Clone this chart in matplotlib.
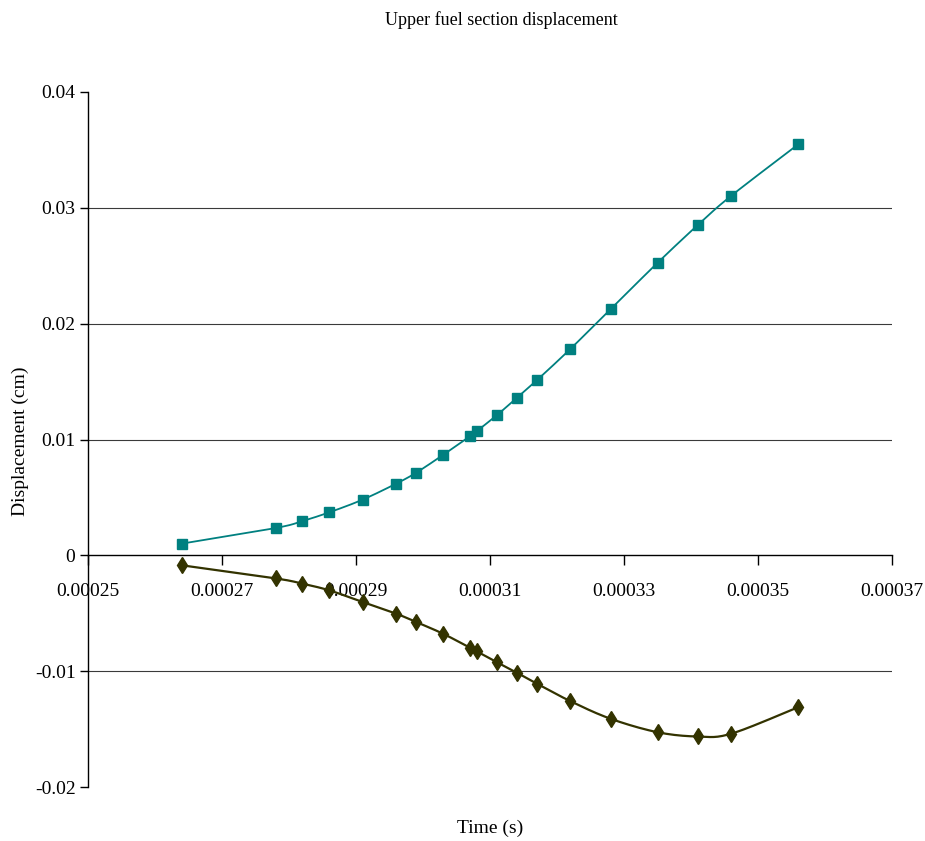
import numpy as np
import matplotlib
matplotlib.use("Agg")
import matplotlib.pyplot as plt
from matplotlib.ticker import FuncFormatter

plt.rcParams["font.family"] = ["Liberation Serif", "DejaVu Serif"]
plt.rcParams["axes.unicode_minus"] = False

# Time samples (s), shared by both traces
time_s = [0.000264, 0.000278, 0.000282, 0.000286, 0.000291, 0.000296, 0.000299,
          0.000303, 0.000307, 0.000308, 0.000311, 0.000314, 0.000317, 0.000322,
          0.000328, 0.000335, 0.000341, 0.000346, 0.000356]

# Displacement (cm)
disp_upper = [0.00101, 0.00236, 0.00296, 0.00371, 0.00481, 0.00619, 0.00714,
              0.00867, 0.01028, 0.01071, 0.01209, 0.01359, 0.01512, 0.01782,
              0.02125, 0.02525, 0.02851, 0.03104, 0.03548]
disp_lower = [-0.00086, -0.00199, -0.00245, -0.00302, -0.00403, -0.00504, -0.00576,
              -0.00677, -0.00797, -0.00827, -0.00922, -0.01013, -0.01108, -0.01259,
              -0.01411, -0.01527, -0.01564, -0.01540, -0.01311]

x_ticks = [0.00025, 0.00027, 0.00029, 0.00031, 0.00033, 0.00035, 0.00037]
y_ticks = [-0.02, -0.01, 0.0, 0.01, 0.02, 0.03, 0.04]
grid_levels = [-0.01, 0.01, 0.02, 0.03]

TEAL = "#008080"
OLIVE = "#333300"


def smooth(x, y, n=16):
    """Bezier smoothing through every point (tension 1/6, like spreadsheet charts)."""
    p = np.column_stack([x, y]).astype(float)
    ext = np.vstack([p[0], p, p[-1]])
    t = np.linspace(0, 1, n)[:, None]
    out = []
    for i in range(len(p) - 1):
        p0, p1, p2, p3 = ext[i], ext[i + 1], ext[i + 2], ext[i + 3]
        c1 = p1 + (p2 - p0) / 6
        c2 = p2 - (p3 - p1) / 6
        seg = ((1 - t) ** 3) * p1 + 3 * ((1 - t) ** 2) * t * c1 \
            + 3 * (1 - t) * t ** 2 * c2 + t ** 3 * p2
        out.append(seg if i == 0 else seg[1:])
    seg = np.vstack(out)
    return seg[:, 0], seg[:, 1]


fig = plt.figure(figsize=(9.25, 8.41), dpi=100)
ax = fig.add_axes([88 / 925, 1 - 787 / 841, (892 - 88) / 925, (787 - 92) / 841])

for lvl in grid_levels:
    ax.axhline(lvl, color="#3a3a3a", lw=0.8, zorder=1)

xs, ys = smooth(time_s, disp_upper)
ax.plot(xs, ys, color=TEAL, lw=1.3, zorder=3)
ax.plot(time_s, disp_upper, ls="none", marker="s", ms=7, color=TEAL, zorder=4)

xs, ys = smooth(time_s, disp_lower)
ax.plot(xs, ys, color=OLIVE, lw=1.6, zorder=3)
ax.plot(time_s, disp_lower, ls="none", marker="d", ms=8, color=OLIVE, zorder=4)

ax.set_xlim(x_ticks[0], x_ticks[-1])
ax.set_ylim(y_ticks[0], y_ticks[-1])
ax.set_xticks(x_ticks)
ax.set_yticks(y_ticks)
ax.xaxis.set_major_formatter(FuncFormatter(lambda v, _: f"{v:.5f}"))
ax.yaxis.set_major_formatter(FuncFormatter(lambda v, _: "0" if abs(v) < 1e-12 else f"{v:g}"))

ax.spines["top"].set_visible(False)
ax.spines["right"].set_visible(False)
ax.spines["bottom"].set_position(("data", 0))
for s in ("left", "bottom"):
    ax.spines[s].set_linewidth(1.0)
    ax.spines[s].set_color("black")
ax.tick_params(axis="x", direction="out", length=7, width=1, pad=13, labelsize=14)
ax.tick_params(axis="y", direction="out", length=6, width=1, pad=3, labelsize=14)

fig.text(501 / 925, 1 - 20 / 841, "Upper fuel section displacement",
         ha="center", va="center", fontsize=13)
fig.text(20 / 925, 1 - 441 / 841, "Displacement (cm)", rotation=90,
         ha="center", va="center", fontsize=14)
fig.text(490 / 925, 1 - 828 / 841, "Time (s)", ha="center", va="center", fontsize=14)

fig.savefig("out.png", dpi=100, facecolor="white")
